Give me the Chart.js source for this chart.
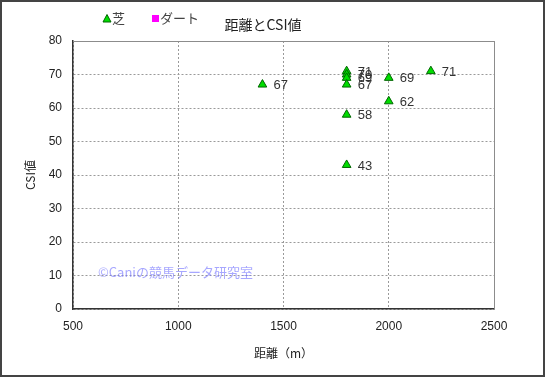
<!DOCTYPE html>
<html>
<head>
<meta charset="utf-8">
<script src="https://cdn.jsdelivr.net/npm/chart.js@4"></script>
<style>
  html, body { margin: 0; padding: 0; background: #fff; }
  #wrap { width: 545px; height: 377px; }
</style>
</head>
<body>
<div id="wrap"><canvas id="csiChart" width="545" height="377"></canvas></div>
<script>
var FONT = "'Liberation Sans', 'Noto Sans CJK JP', sans-serif";
var JP_FONT = "'Noto Sans CJK JP', 'Liberation Sans', sans-serif";

var seriesNames = ['芝', 'ダート'];
var turfDistance = [1400, 1800, 1800, 1800, 1800, 1800, 1800, 2000, 2000, 2200];
var turfCsi      = [67, 71, 70, 69, 67, 58, 43, 69, 62, 71];
var dirtDistance = [];
var dirtCsi      = [];
var xTicks = [500, 1000, 1500, 2000, 2500];
var yTicks = [0, 10, 20, 30, 40, 50, 60, 70, 80];

function toPoints(xs, ys) {
    return xs.map(function (x, i) { return { x: x, y: ys[i] }; });
}

// frame, legend, title, watermark, value labels
var decor = {
    id: 'decor',
    beforeDatasetsDraw: function (chart) {
        var c = chart.ctx, a = chart.chartArea;
        c.save();
        c.strokeStyle = '#8c8c8c';
        c.lineWidth = 1;
        c.beginPath();
        c.moveTo(a.left, a.top + 0.5);
        c.lineTo(a.right + 0.5, a.top + 0.5);
        c.lineTo(a.right + 0.5, a.bottom);
        c.stroke();
        // watermark
        c.fillStyle = 'rgba(120, 120, 255, 0.65)';
        c.font = '13px ' + JP_FONT;
        c.textBaseline = 'middle';
        c.fillText('©Caniの競馬データ研究室', 98, 272);
        c.restore();
    },
    afterDatasetsDraw: function (chart) {
        var c = chart.ctx;
        c.save();
        c.font = '13px ' + FONT;
        c.fillStyle = '#333';
        c.textBaseline = 'middle';
        chart.data.datasets.forEach(function (ds, di) {
            chart.getDatasetMeta(di).data.forEach(function (pt, i) {
                c.fillText(String(ds.data[i].y), pt.x + 11, pt.y + 1);
            });
        });
        c.restore();
    },
    afterDraw: function (chart) {
        var c = chart.ctx;
        c.save();
        // outer frame
        c.strokeStyle = '#444';
        c.lineWidth = 2;
        c.strokeRect(1, 1, chart.width - 2, chart.height - 2);
        // legend
        c.fillStyle = '#00dd00';
        c.strokeStyle = '#006600';
        c.lineWidth = 1;
        c.beginPath();
        c.moveTo(107, 14.5);
        c.lineTo(111, 22);
        c.lineTo(103, 22);
        c.closePath();
        c.fill();
        c.stroke();
        c.fillStyle = '#ff00ff';
        c.fillRect(152, 15, 7, 7);
        c.fillStyle = '#444';
        c.font = '13px ' + JP_FONT;
        c.textBaseline = 'middle';
        c.fillText(seriesNames[0], 112, 18);
        c.fillText(seriesNames[1], 160, 18);
        // title
        c.fillStyle = '#222';
        c.font = '14px ' + JP_FONT;
        c.textAlign = 'center';
        c.fillText('距離とCSI値', 263, 25);
        c.restore();
    }
};

var ctx = document.getElementById('csiChart').getContext('2d');

new Chart(ctx, {
    type: 'scatter',
    data: {
        datasets: [{
            label: seriesNames[0],
            data: toPoints(turfDistance, turfCsi),
            pointStyle: 'triangle',
            pointRadius: 5,
            pointHoverRadius: 5,
            backgroundColor: '#00dd00',
            borderColor: '#006600',
            borderWidth: 1
        }, {
            label: seriesNames[1],
            data: toPoints(dirtDistance, dirtCsi),
            pointStyle: 'rect',
            pointRadius: 4,
            backgroundColor: '#ff00ff',
            borderColor: '#ff00ff',
            borderWidth: 1
        }]
    },
    options: {
        responsive: false,
        animation: false,
        events: [],
        layout: {
            padding: { top: 41, left: 0, right: 51, bottom: 0 }
        },
        plugins: {
            legend: { display: false },
            title: { display: false },
            tooltip: { enabled: false }
        },
        scales: {
            x: {
                type: 'linear',
                min: 500,
                max: 2500,
                afterBuildTicks: function (scale) {
                    scale.ticks = xTicks.map(function (v) { return { value: v }; });
                },
                afterFit: function (scale) { scale.height = 68; },
                ticks: {
                    color: '#222',
                    font: { family: FONT, size: 12 },
                    padding: 10,
                    callback: function (value) { return String(value); }
                },
                grid: {
                    color: '#9a9a9a',
                    drawTicks: false
                },
                border: { color: '#333', width: 1.5, dash: [2, 2] },
                title: {
                    display: true,
                    text: '距離（m）',
                    color: '#222',
                    font: { family: JP_FONT, size: 12 },
                    padding: { top: 16, bottom: 16 }
                }
            },
            y: {
                min: 0,
                max: 80,
                afterBuildTicks: function (scale) {
                    scale.ticks = yTicks.map(function (v) { return { value: v }; });
                },
                afterFit: function (scale) { scale.width = 73; },
                ticks: {
                    color: '#222',
                    font: { family: FONT, size: 12 },
                    padding: 11
                },
                grid: {
                    color: '#9a9a9a',
                    drawTicks: false
                },
                border: { color: '#333', width: 1.5, dash: [2, 2] },
                title: {
                    display: true,
                    text: 'CSI値',
                    color: '#222',
                    font: { family: JP_FONT, size: 12 },
                    padding: { top: 23, bottom: 23 }
                }
            }
        }
    },
    plugins: [decor]
});
</script>
</body>
</html>
